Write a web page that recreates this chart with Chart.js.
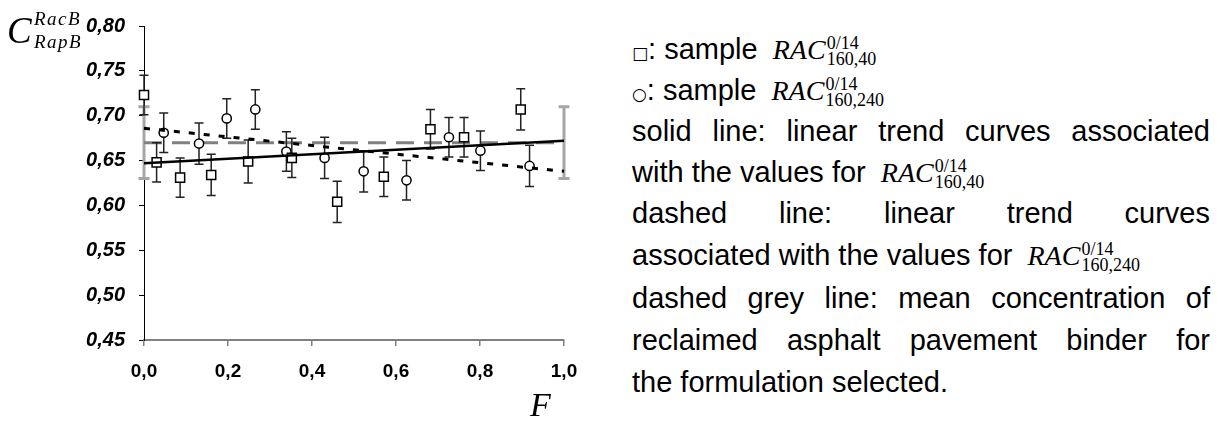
<!DOCTYPE html>
<html>
<head>
<meta charset="utf-8">
<script src="https://cdn.jsdelivr.net/npm/chart.js@4.4.0/dist/chart.umd.min.js"></script>
<style>
  body { margin: 0; background: #fff; width: 1224px; height: 423px; overflow: hidden; position: relative;
         font-family: 'Liberation Sans', Arial, sans-serif; color: #000; }
  #wrap { position: absolute; left: 0; top: 0; width: 620px; height: 423px; }
  .serif { font-family: 'Liberation Serif', 'Times New Roman', serif; font-style: italic; position: absolute; line-height: 1; }
  .ln { position: absolute; left: 632px; font-size: 29px; line-height: 30px; white-space: nowrap; }
  .just { width: 578px; text-align: justify; text-align-last: justify; }
  .sym { font-family: 'DejaVu Sans', sans-serif; font-size: 17px; }
  .rac { font-family: 'Liberation Serif', 'Times New Roman', serif; font-style: italic; font-size: 28px; margin-left: 7px; }
  .ss { display: inline-flex; flex-direction: column; font-style: normal; font-size: 18px; line-height: 16px;
        vertical-align: 10px; margin-left: 1px; }
</style>
</head>
<body>
<div id="wrap"><canvas id="chartC"></canvas></div>

<!-- axis titles -->
<div class="serif" style="left:7px; top:12px; font-size:37px;">C</div>
<div class="serif" style="left:34px; top:9px; font-size:19px; letter-spacing:1.5px;">RacB</div>
<div class="serif" style="left:34px; top:32px; font-size:19px; letter-spacing:1.5px;">RapB</div>
<div class="serif" style="left:530px; top:388px; font-size:34px;">F</div>

<!-- explanatory text -->
<div class="ln" style="top:34px;"><span class="sym">□</span>: sample <span class="rac">RAC<span class="ss"><span>0/14</span><span>160,40</span></span></span></div>
<div class="ln" style="top:75px;"><span class="sym">○</span>: sample <span class="rac">RAC<span class="ss"><span>0/14</span><span>160,240</span></span></span></div>
<div class="ln just" style="top:116px;">solid line: linear trend curves associated</div>
<div class="ln" style="top:157px;">with the values for <span class="rac">RAC<span class="ss"><span>0/14</span><span>160,40</span></span></span></div>
<div class="ln just" style="top:198px;">dashed line: linear trend curves</div>
<div class="ln" style="top:240px;">associated with the values for <span class="rac">RAC<span class="ss"><span>0/14</span><span>160,240</span></span></span></div>
<div class="ln just" style="top:283px;">dashed grey line: mean concentration of</div>
<div class="ln just" style="top:325px;">reclaimed asphalt pavement binder for</div>
<div class="ln" style="top:367px;">the formulation selected.</div>

<script>
// ---- data ----
const xTickLabels = ['0,0', '0,2', '0,4', '0,6', '0,8', '1,0'];
const yTickLabels = ['0,45', '0,50', '0,55', '0,60', '0,65', '0,70', '0,75', '0,80'];

// sample RAC 0/14 160,40 (squares)
const sqF   = [0.000, 0.030, 0.086, 0.160, 0.248, 0.352, 0.460, 0.571, 0.682, 0.762, 0.897];
const sqC   = [0.723, 0.648, 0.631, 0.634, 0.649, 0.653, 0.604, 0.632, 0.685, 0.676, 0.707];
const sqErr = [0.022, 0.022, 0.022, 0.023, 0.024, 0.022, 0.023, 0.022, 0.022, 0.022, 0.023];

// sample RAC 0/14 160,240 (circles)
const ciF   = [0.047, 0.131, 0.197, 0.265, 0.339, 0.430, 0.523, 0.625, 0.726, 0.801, 0.918];
const ciC   = [0.681, 0.669, 0.697, 0.707, 0.660, 0.653, 0.638, 0.628, 0.676, 0.661, 0.644];
const ciErr = [0.022, 0.023, 0.022, 0.022, 0.022, 0.023, 0.023, 0.022, 0.022, 0.022, 0.023];

// trend lines and mean (ends at F = 0 and F = 1)
const trendF     = [0, 1];
const trendSq    = [0.647, 0.672];
const trendCi    = [0.686, 0.638];
const meanC      = [0.670, 0.670];
const meanErr    = [0.040, 0.040];

const pts = (xs, ys) => xs.map((x, i) => ({ x: x, y: ys[i] }));

// error bars drawn under each dataset's markers
const errorBars = {
    id: 'errorBars',
    beforeDatasetDraw(chart, args) {
        const ds = chart.data.datasets[args.index];
        if (!ds.errors) return;
        const ctx = chart.ctx;
        const xs = chart.scales.x, ys = chart.scales.y;
        ctx.save();
        ctx.strokeStyle = ds.errorColor;
        ctx.lineWidth = ds.errorWidth;
        ds.data.forEach((p, i) => {
            const e = ds.errors[i];
            const px = xs.getPixelForValue(p.x);
            const top = ys.getPixelForValue(p.y + e);
            const bot = ys.getPixelForValue(p.y - e);
            const c = ds.capHalf;
            ctx.beginPath();
            ctx.moveTo(px, top); ctx.lineTo(px, bot);
            ctx.moveTo(px - c, top); ctx.lineTo(px + c, top);
            ctx.moveTo(px - c, bot); ctx.lineTo(px + c, bot);
            ctx.stroke();
        });
        ctx.restore();
    }
};

const ctxC = document.getElementById('chartC').getContext('2d');
window.concChart = new Chart(ctxC, {
    type: 'scatter',
    data: {
        datasets: [
            {
                label: 'RAC 160,40',
                data: pts(sqF, sqC),
                errors: sqErr, errorColor: '#222', errorWidth: 1.5, capHalf: 4.5,
                pointStyle: 'rect', pointRadius: 6.4, pointBorderWidth: 1.5,
                pointBackgroundColor: '#fff', pointBorderColor: '#000',
                clip: false, order: 2
            },
            {
                label: 'RAC 160,240',
                data: pts(ciF, ciC),
                errors: ciErr, errorColor: '#222', errorWidth: 1.5, capHalf: 4.5,
                pointStyle: 'circle', pointRadius: 4.6, pointBorderWidth: 1.5,
                pointBackgroundColor: '#fff', pointBorderColor: '#000',
                clip: false, order: 3
            },
            {
                label: 'trend 160,40',
                data: pts(trendF, trendSq),
                showLine: true, pointRadius: 0, borderColor: '#000', borderWidth: 2.5,
                clip: false, order: 0
            },
            {
                label: 'trend 160,240',
                data: pts(trendF, trendCi),
                showLine: true, pointRadius: 0, borderColor: '#000', borderWidth: 3,
                borderDash: [6, 9], clip: false, order: 1
            },
            {
                label: 'mean RAP binder',
                data: pts(trendF, meanC),
                errors: meanErr, errorColor: '#a6a6a6', errorWidth: 3, capHalf: 5.5,
                showLine: true, pointRadius: 0, borderColor: '#808080', borderWidth: 3,
                borderDash: [18, 10], clip: false, order: 4
            }
        ]
    },
    options: {
        responsive: true,
        maintainAspectRatio: false,
        animation: false,
        layout: { padding: { top: 16, right: 56, left: 0, bottom: 0 } },
        plugins: {
            legend: { display: false },
            tooltip: { enabled: false }
        },
        scales: {
            x: {
                type: 'linear', min: 0, max: 1,
                afterFit: function(scale) { scale.height = 83; },
                ticks: {
                    stepSize: 0.2,
                    padding: 14,
                    color: '#000',
                    font: { family: 'Liberation Sans', size: 19, weight: 'bold' },
                    callback: function(v) { return xTickLabels[Math.round(v / 0.2)]; }
                },
                grid: { drawOnChartArea: false, drawTicks: true, tickLength: 6, color: '#808080', lineWidth: 1.5 },
                border: { color: '#808080', width: 2 }
            },
            y: {
                min: 0.45, max: 0.80,
                afterFit: function(scale) { scale.width = 144; },
                ticks: {
                    stepSize: 0.05,
                    padding: 14,
                    color: '#000',
                    font: { family: 'Liberation Sans', size: 20, weight: 'bold', style: 'italic' },
                    callback: function(v) { return yTickLabels[Math.round((v - 0.45) / 0.05)]; }
                },
                grid: { drawOnChartArea: false, drawTicks: true, tickLength: 5, color: '#000', lineWidth: 1 },
                border: { color: '#000', width: 1 }
            }
        }
    },
    plugins: [errorBars]
});
</script>
</body>
</html>
